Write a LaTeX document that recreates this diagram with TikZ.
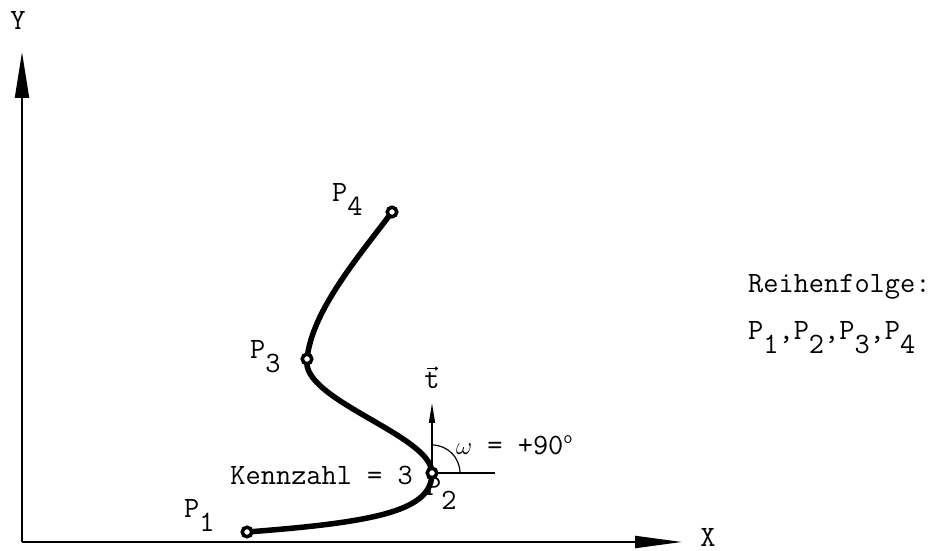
\documentclass[tikz,border=0pt]{standalone}
\usetikzlibrary{arrows.meta}
\newcommand\Psub[1]{P\raisebox{-14pt}{#1}}
\begin{document}
\begin{tikzpicture}[x=1pt,y=1pt,
  axis/.style={line width=2pt},
  curveline/.style={line width=5.5pt},
  thinline/.style={line width=1.4pt},
  lbl/.style={inner sep=0pt,font=\fontsize{29.5}{33}\selectfont\ttfamily},
  ptmark/.style={circle,draw,line width=3.5pt,fill=white,minimum size=9.5pt,inner sep=0pt}]
\useasboundingbox (0,0) rectangle (943,551);
% axes
\coordinate (O) at (22,9);
\coordinate (Ytip) at (22,499);
\coordinate (Xtip) at (682,9);
\draw[axis,-{Triangle[length=46pt,width=14pt]}] (O) -- (Ytip);
\draw[axis,-{Triangle[length=47pt,width=12pt]}] (O) -- (Xtip);
\node[lbl] (ylab) at (18,531) {Y};
\node[lbl] (xlab) at (708,14) {X};
% points
\coordinate (c1) at (247,19);
\coordinate (c2) at (432,78);
\coordinate (c3) at (307,192);
\coordinate (c4) at (392,339);
% tangent construction at P2
\coordinate (ttip) at (432,148);
\coordinate (hend) at (495,78);
\draw[thinline,-{Triangle[length=20pt,width=6pt]}] (c2) -- (ttip);
\draw[thinline] (c2) -- (hend);
\draw[line width=1.2pt] ([xshift=28pt]c2) arc[start angle=0,end angle=90,radius=28pt];
% curve
\draw[curveline] (c1) .. controls (380,29) and (432,41) .. (c2)
  .. controls (432,116) and (300,151) .. (c3)
  .. controls (312,241) and (360,296) .. (c4);
\node[ptmark] (p1) at (c1) {};
\node[ptmark] (p2) at (c2) {};
\node[ptmark] (p3) at (c3) {};
\node[ptmark] (p4) at (c4) {};
% labels
\node[lbl,anchor=base west] (l1) at (184,33) {\Psub{1}};
\node[lbl,anchor=base west] (l2) at (426,55) {\Psub{2}};
\node[lbl,anchor=base west] (l3) at (250,192) {\Psub{3}};
\node[lbl,anchor=base west] (l4) at (332,349) {\Psub{4}};
\node[lbl,anchor=base east] (kz) at (413,66) {Kennzahl = 3};
\node[lbl,anchor=base] (tlab) at (432,162) {t};
\draw[line width=1pt,-{To[length=3pt,width=4pt]}] ([xshift=-5pt,yshift=4pt]tlab.north) -- ([xshift=6pt,yshift=4pt]tlab.north);
\node[lbl,anchor=base west] (om) at (456,96) {$\omega$ = +90\raisebox{11pt}{\fontsize{18}{18}\selectfont o}};
\node[lbl,anchor=base west] (rf) at (748,258) {Reihenfolge:};
\node[lbl,anchor=base west] (rl) at (748,211) {P\raisebox{-14pt}{1},P\raisebox{-14pt}{2},P\raisebox{-14pt}{3},P\raisebox{-14pt}{4}};
\end{tikzpicture}
\end{document}
